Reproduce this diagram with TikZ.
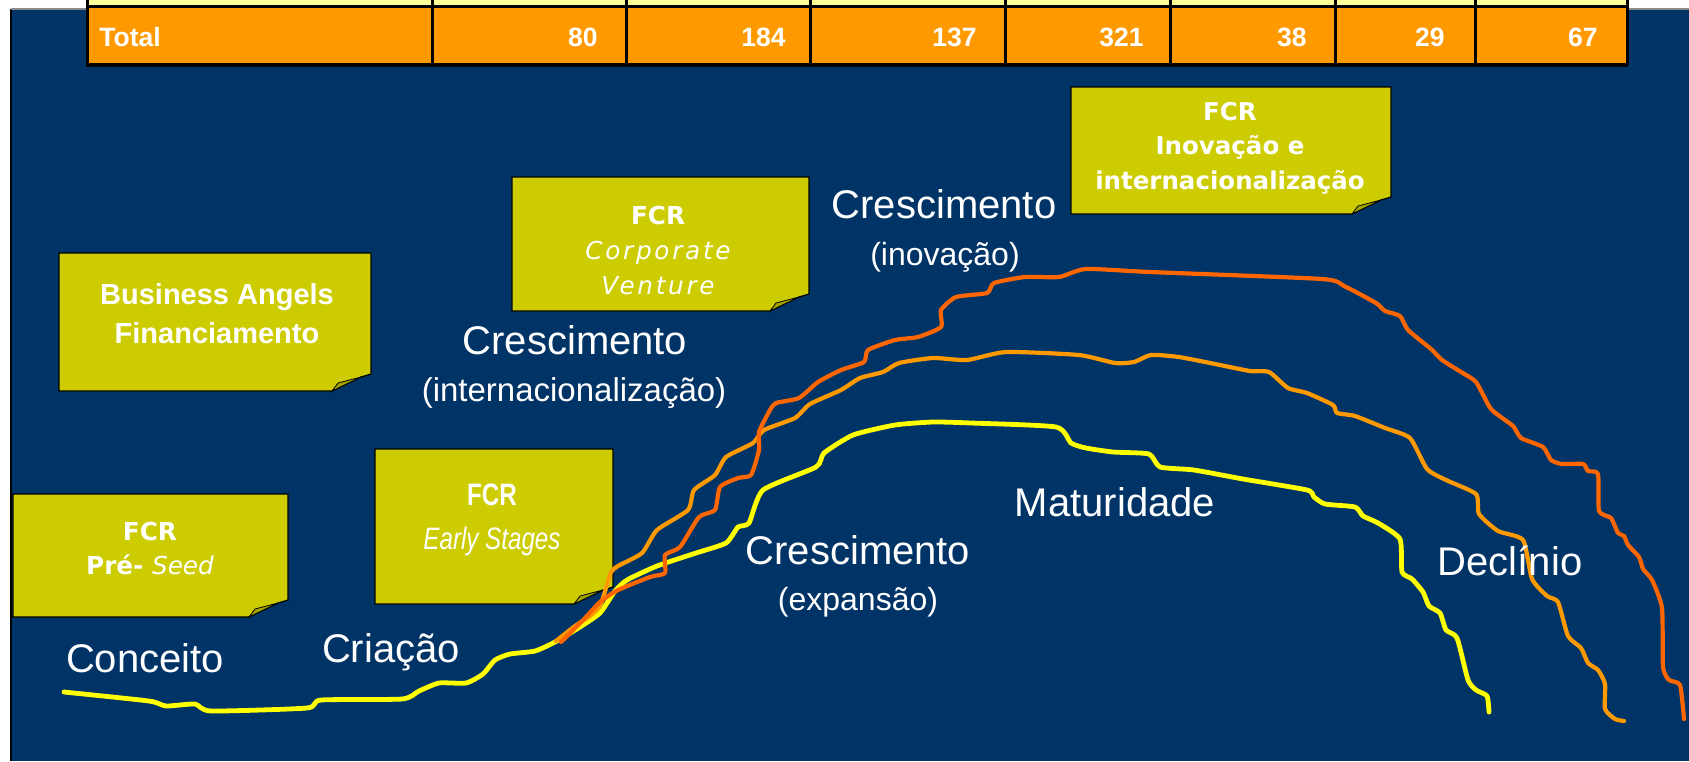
\documentclass[tikz,border=0pt]{standalone}
\usepackage{fontspec}
\setmainfont{Liberation Sans}
\newfontfamily\verdfont{DejaVu Sans}
\newfontfamily\spacedfont[LetterSpace=11]{DejaVu Sans}
\newfontfamily\narrowfont[FakeStretch=0.78]{Liberation Sans}
\usepackage{tikz}
\usepackage{xcolor}
\usetikzlibrary{positioning}

\definecolor{bgblue}{HTML}{003366}
\definecolor{noteolive}{HTML}{CCCC00}
\definecolor{foldolive}{HTML}{A3A300}
\definecolor{tableorange}{HTML}{FF9900}
\definecolor{tablepale}{HTML}{FFFF99}
\definecolor{lineyellow}{HTML}{FFFF00}
\definecolor{lineorange}{HTML}{FF9900}
\definecolor{linered}{HTML}{FF6600}

\tikzset{
  notebox/.style={fill=noteolive, draw=black, line width=0.6pt},
  notefold/.style={fill=foldolive, draw=black, line width=0.4pt},
  notetext/.style={text=white, inner sep=0pt, anchor=base, align=center},
  cell/.style={text=white, inner sep=0pt, font=\bfseries\fontsize{13.25}{16}\selectfont},
  stage/.style={text=white, inner sep=0pt, anchor=base, font=\fontsize{20}{24}\selectfont},
  substage/.style={text=white, inner sep=0pt, anchor=base, font=\fontsize{16}{19}\selectfont},
  phase/.style={line width=2.1pt, line cap=round, line join=round},
}

\begin{document}
\begin{tikzpicture}[x=0.5pt, y=-0.5pt]
\useasboundingbox (0,0) rectangle (1689,761);
% background
\fill[bgblue] (11,9) rectangle (1689,761);
\draw[black, line width=0.6pt] (11,761) -- (11,9);
\draw[black!45, line width=0.6pt] (11,9) -- (1689,9);
% table, last row
\fill[tablepale] (87,0) rectangle (1627,6);
\fill[tableorange] (87,6) rectangle (1627,64);
\draw[line width=1.5pt] (87,6) -- (1627,6);
\draw[line width=2pt] (86,65) -- (1628,65);
\foreach \cx in {87,432,626,810,1005,1170,1335,1475,1627}
  \draw[line width=1.5pt] (\cx,0) -- (\cx,65);
\node[cell, anchor=base west] (total) at (99,46) {Total};
\node[cell, anchor=base east] (c1) at (598,46) {80};
\node[cell, anchor=base east] (c2) at (786,46) {184};
\node[cell, anchor=base east] (c3) at (977,46) {137};
\node[cell, anchor=base east] (c4) at (1144,46) {321};
\node[cell, anchor=base east] (c5) at (1307,46) {38};
\node[cell, anchor=base east] (c6) at (1445,46) {29};
\node[cell, anchor=base east] (c7) at (1598,46) {67};
% notes with folded corner
\foreach \l/\t/\r/\b in {59/253/371/391, 13/494/288/617, 375/449/613/604, 512/177/809/311, 1071/87/1391/214} {
  \draw[notebox] (\l,\t) -- (\r,\t) -- (\r,\b-17) -- (\r-10,\b-14) -- (\r-39,\b) -- (\l,\b) -- cycle;
  \draw[notefold] (\r-39,\b) -- (\r-33,\b-8) -- (\r-10,\b-14) -- cycle;
}
\node[notetext, font=\bfseries\fontsize{14.5}{19.5}\selectfont] (angels) at (217,343) {Business Angels\\Financiamento};
\node[notetext, font=\verdfont\bfseries\fontsize{12.35}{17}\selectfont] (seed) at (150,574) {FCR\\Pré- {\mdseries\itshape Seed}};
\node[notetext, font=\narrowfont\fontsize{15.5}{22}\selectfont] (early) at (492,549) {\textbf{FCR}\\\textit{Early Stages}};
\node[notetext, font=\spacedfont\itshape\fontsize{12.35}{17.5}\selectfont] (corporate) at (658,294) {{\verdfont\upshape\bfseries FCR}\\Corporate\\Venture};
\node[notetext, font=\verdfont\bfseries\fontsize{12.25}{17.25}\selectfont] (inovacao) at (1230,189) {FCR\\Inovação e\\internacionalização};
% life cycle curves
\draw[phase, lineyellow, line width=2.4pt] plot[smooth, tension=0.35] coordinates {
  (64,692) (149,701) (166,706) (195,704) (211,711) (307,708) (321,700) (402,699)
  (419,691) (439,683) (466,683) (483,674) (495,660) (510,654) (535,651) (555,642)
  (580,627) (600,613) (615,591) (627,580) (657,566) (696,553) (726,543) (738,527)
  (749,523) (763,490) (816,467) (824,453) (853,435) (895,425) (933,422) (971,423)
  (1056,427) (1071,443) (1086,448) (1113,452) (1149,454) (1160,467) (1194,470)
  (1243,479) (1307,490) (1314,497) (1325,504) (1355,507) (1363,516) (1378,523)
  (1400,539) (1402,572) (1412,579) (1423,592) (1429,606) (1440,613) (1446,630)
  (1457,638) (1468,680) (1476,690) (1487,696) (1489,712)};
\draw[phase, lineorange] plot[smooth, tension=0.35] coordinates {
  (556,641) (575,626) (590,616) (600,606) (606,588) (611,572) (618,566) (642,553)
  (657,530) (688,510) (694,490) (715,475) (726,457) (753,443) (764,430) (795,418)
  (810,404) (841,390) (860,378) (883,372) (899,363) (933,358) (967,360) (1006,352)
  (1079,355) (1115,363) (1134,362) (1151,355) (1179,357) (1220,365) (1250,371)
  (1269,372) (1288,388) (1307,393) (1333,405) (1337,413) (1355,416) (1385,428)
  (1410,438) (1427,469) (1446,480) (1476,494) (1479,514) (1498,531) (1523,540)
  (1532,579) (1547,596) (1558,602) (1568,636) (1581,648) (1588,663) (1598,670)
  (1605,684) (1605,709) (1615,719) (1624,721)};
\draw[phase, linered] plot[smooth, tension=0.35] coordinates {
  (561,642) (585,618) (600,602) (618,590) (650,577) (665,573) (665,555) (680,547)
  (699,517) (715,510) (720,487) (738,478) (751,475) (759,450) (759,432) (770,410)
  (776,403) (799,398) (818,382) (841,370) (864,362) (868,350) (895,340) (918,337)
  (941,327) (941,310) (956,297) (987,293) (994,283) (1025,277) (1059,277) (1086,269)
  (1150,272) (1322,279) (1344,286) (1376,303) (1385,311) (1400,316) (1408,330)
  (1431,349) (1442,360) (1461,372) (1476,382) (1491,409) (1513,426) (1521,438)
  (1543,447) (1551,460) (1562,464) (1583,464) (1588,471) (1598,474) (1599,511)
  (1611,518) (1618,533) (1624,536) (1628,545) (1639,557) (1643,569) (1652,580)
  (1662,608) (1663,667) (1669,680) (1680,685) (1684,719)};
% stage labels
\node[stage] (conceito) at (145,672) {Conceito};
\node[stage] (criacao) at (391,662) {Criação};
\node[stage] (cresc1) at (575,354) {Crescimento};
\node[substage, font=\fontsize{16.5}{19}\selectfont] (intern) at (574,401) {(internacionalização)};
\node[stage] (cresc2) at (944,218) {Crescimento};
\node[substage] (inov) at (945,265) {(inovação)};
\node[stage] (cresc3) at (858,564) {Crescimento};
\node[substage] (expan) at (858,610) {(expansão)};
\node[stage] (matur) at (1115,516) {Maturidade};
\node[stage] (declinio) at (1510,575) {Declínio};
\end{tikzpicture}
\end{document}
